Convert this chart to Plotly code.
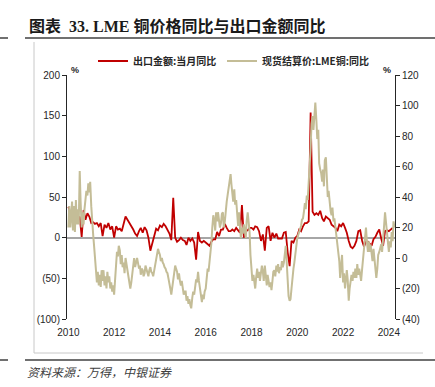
import plotly.graph_objects as go
import pandas as pd

# ---------------- data ----------------
red_name = "出口金额:当月同比"
beige_name = "现货结算价:LME铜:同比"

# monthly, from 2010-01 (left axis, %)
red_values = [
    38, 30, 26, 24, 28, 22, 26, 1, 34, 22, 30, 26,      # 2010
    18, 19, 17, 18, 14, 18, 2, 16, 12, 18, 10, 14,      # 2011
    0, 14, 10, 11, 8, 16, 26, 22, 18, 15, 10, 5,        # 2012
    2, 8, 12, 6, 13, 9, 0, -16, -6, 4, 11, 9,           # 2013
    15, 13, 17, 14, 10, 5, -3, 49, 0, -5, -3, 0,        # 2014
    -3, -4, -9, 0, -4, -1, -6, -27, 7, -4, -6, -4,      # 2015
    -6, -8, -10, -5, -2, -2, 7, 2, 10, 10, 17, 12,      # 2016
    8, 8, 10, 8, 12, 9, 6, 40, 0, 8, 9, 12,             # 2017
    12, 10, 14, 13, 8, -4, 4, -16, 12, 14, -4, 6,       # 2018
    0, 5, -1, -1, -1, 6, 7, -18, -35, -4, -6, 0,        # 2019
    2, 10, 8, 14, 18, 18, 20, 154, 32, 28, 30, 28,      # 2020
    33, 24, 20, 26, 24, 22, 16, 14, 12, 8, 16, 14,      # 2021
    18, 12, 6, -4, -11, -13, -10, -4, 8, 9, -4, -11,    # 2022
    -5, -5, -8, -10, -2, 1, 6, 10, -1, -10, 8, 9,       # 2023
    8, 10, 12,                                          # 2024
]

# semi-monthly, from 2010-01 (right axis, %)
beige_values = [
    20, 34, 20, 30, 37, 18, 34, 17, 38, 22, 32, 22, 57, 37, 20, 30, 22, 32, 42, 44, 41, 49, 43, 50,
    34, 22, 15, 8, 2, -6, -16, -9, -18, -11, -19, -8, -15, -8, -18, -12, -20, -9, -16, -12, -20, -16, -22, -18,
    -24, -15, -2, 4, 1, 8, 5, -4, 2, -6, -3, -10, 0, -4, -8, -12, -15, -20, -16, -10, -3, 0, -6, -3,
    0, -3, -7, -5, -11, -7, -8, -12, -10, -5, -8, -9, -12, -8, -6, -9, -10, -12, -8, -4, 0, 3, 6, 4,
    2, -2, 0, -3, -4, -6, -7, -9, -10, -13, -16, -20, -24, -20, -14, -11, -5, -7, -9, -14, -10, -15, -18, -15,
    -19, -24, -22, -22, -28, -25, -30, -27, -31, -33, -26, -22, -24, -19, -14, -16, -9, -15, -19, -24, -29, -24, -27, -22,
    -20, -14, -7, -9, -4, 2, 10, 20, 28, 25, 18, 30, 24, 30, 22, 20, 23, 29, 30, 20, 24, 32, 37, 41,
    46, 50, 55, 48, 41, 37, 45, 35, 38, 26, 21, 30, 18, 13, 20, 16, 22, 19, 13, 24, 30, 24, 17, 2,
    -9, -15, -11, -18, -20, -13, -7, -13, -9, -15, -11, -5, -9, -15, -5, -13, -18, -11, -16, -19, -16, -21, -15, -9,
    -8, -12, -5, -9, -4, -10, -6, -8, -2, -6, -3, 2, 8, -2, -22, -25, -28, -27, -20, -11, -7, -3, 4, 8,
    13, 15, 17, 19, 21, 25, 26, 30, 36, 32, 41, 38, 48, 56, 72, 88, 93, 84, 96, 102, 90, 78, 84, 62,
    58, 56, 50, 58, 47, 64, 66, 46, 40, 44, 36, 31, 28, 33, 24, 26, 20, 15, 11, 5, -2, -13, -6, 2,
    -16, -10, -20, -15, -8, -14, -28, -20, -16, -11, -15, -9, -13, -7, -13, -4, -11, -7, -11, -15, -7, 0, 7, 15,
    20, 11, 4, 11, 4, 9, 4, -2, 6, 1, -4, -13, -7, 2, 4, 7, 9, 4, 11, 20, 30, 24, 13, 9,
    4, 11, 7, 17, 11, 24, 20,
]

left_tickvals = [-100, -50, 0, 50, 100, 150, 200]
left_ticktext = ["(100)", "(50)", "0", "50", "100", "150", "200"]
right_tickvals = [-40, -20, 0, 20, 40, 60, 80, 100, 120]
right_ticktext = ["(40)", "(20)", "0", "20", "40", "60", "80", "100", "120"]

red_dates = pd.date_range("2010-01-01", periods=len(red_values), freq="MS")
beige_dates = pd.date_range("2010-01-01", periods=len(beige_values), freq="SMS")

# ---------------- layout helpers ----------------
W, H = 435, 387
L, R, T, B = 67, 40, 75, 68
PW, PH = W - L - R, H - T - B
Y_RANGE = [-100, 200]
X_RANGE = ["2009-12-10", "2024-04-08"]


def fx(x):
    return (x - L) / PW


def fy(y):
    return (H - B - y) / PH


RED = "#C00000"
TAN = "#C4BD97"
TICKFONT = dict(family="Liberation Sans, Arial, sans-serif", size=10, color="#262626")
LEGFONT = dict(family="Noto Sans CJK SC, sans-serif", size=10, color="#262626")

fig = go.Figure()
fig.add_trace(go.Scatter(x=red_dates, y=red_values, name="<b>" + red_name + "</b>",
                         mode="lines", line=dict(color=RED, width=1.8), yaxis="y", legend="legend"))
fig.add_trace(go.Scatter(x=beige_dates, y=beige_values, name="<b>" + beige_name + "</b>",
                         mode="lines", line=dict(color=TAN, width=2), yaxis="y2", legend="legend2"))

line_dark = dict(color="#404040", width=1.5)
line_frame = dict(color="#C8C8C8", width=1)
shapes = [
    dict(type="line", xref="paper", yref="paper", x0=fx(0), x1=fx(8), y0=fy(38), y1=fy(38), line=line_dark),
    dict(type="line", xref="paper", yref="paper", x0=fx(25), x1=fx(435), y0=fy(38), y1=fy(38), line=line_dark),
    dict(type="line", xref="paper", yref="paper", x0=fx(34), x1=fx(34), y0=fy(42), y1=fy(353), line=line_frame),
    dict(type="line", xref="paper", yref="paper", x0=fx(34), x1=fx(423), y0=fy(353), y1=fy(353), line=line_frame),
    dict(type="line", xref="paper", yref="paper", x0=fx(0), x1=fx(8), y0=fy(360), y1=fy(360), line=line_dark),
    dict(type="line", xref="paper", yref="paper", x0=fx(25), x1=fx(435), y0=fy(360), y1=fy(360), line=line_dark),
]

annotations = [
    dict(xref="paper", yref="paper", x=fx(27), y=fy(26), xanchor="left", yanchor="middle", showarrow=False,
         text="<b>图表\u00a0\u00a033. LME 铜价格同比与出口金额同比</b>",
         font=dict(family="Liberation Serif, Noto Sans CJK SC, serif", size=16, color="#1a1a1a")),
    dict(xref="paper", yref="paper", x=fx(75), y=fy(70), xanchor="center", yanchor="middle", showarrow=False,
         text="<b>%</b>", font=dict(family="Liberation Sans, Arial", size=9, color="#262626")),
    dict(xref="paper", yref="paper", x=fx(387), y=fy(70), xanchor="center", yanchor="middle", showarrow=False,
         text="<b>%</b>", font=dict(family="Liberation Sans, Arial", size=9, color="#262626")),
    dict(xref="paper", yref="paper", x=fx(25), y=fy(371), xanchor="left", yanchor="middle", showarrow=False,
         text="<i>资料来源：万得，中银证券</i>",
         font=dict(family="Noto Sans CJK SC, sans-serif", size=12, color="#404040")),
]

legend_common = dict(orientation="h", yanchor="middle", xanchor="left", font=LEGFONT,
                     bgcolor="rgba(0,0,0,0)", itemwidth=30)

fig.update_layout(
    width=W, height=H,
    margin=dict(l=L, r=R, t=T, b=B),
    paper_bgcolor="white", plot_bgcolor="white",
    showlegend=True,
    legend=dict(x=fx(93), y=fy(61), **legend_common),
    legend2=dict(x=fx(222), y=fy(61), **legend_common),
    shapes=shapes,
    annotations=annotations,
    xaxis=dict(type="date", range=X_RANGE, tick0="2010-01-01", dtick="M24",
               tickformat="%Y", showgrid=False, zeroline=False, showline=False, ticks="",
               tickfont=TICKFONT, ticklabelstandoff=6),
    # tick marks sitting on the zero line (category axis crossing at 0)
    xaxis2=dict(type="date", range=X_RANGE, tick0="2010-01-01", dtick="M24", overlaying="x",
                anchor="free", position=(0 - Y_RANGE[0]) / (Y_RANGE[1] - Y_RANGE[0]), side="bottom",
                showgrid=False, zeroline=False, showline=False, ticks="outside", ticklen=3,
                tickwidth=1, tickcolor="#A6A6A6", showticklabels=False),
    yaxis=dict(range=Y_RANGE, tickvals=left_tickvals, ticktext=left_ticktext, showgrid=False,
               zeroline=True, zerolinecolor="#A6A6A6", zerolinewidth=1.5,
               showline=True, linecolor="#262626", linewidth=1, ticks="outside", ticklen=4,
               tickcolor="#262626", tickfont=TICKFONT),
    yaxis2=dict(range=[-40, 120], tickvals=right_tickvals, ticktext=right_ticktext, overlaying="y",
                side="right", showgrid=False, zeroline=False,
                showline=True, linecolor="#262626", linewidth=1, ticks="outside", ticklen=4,
                tickcolor="#262626", tickfont=TICKFONT),
)

fig.write_html("out.html", config={"displayModeBar": False},
               post_script="document.body.style.margin='0';")
